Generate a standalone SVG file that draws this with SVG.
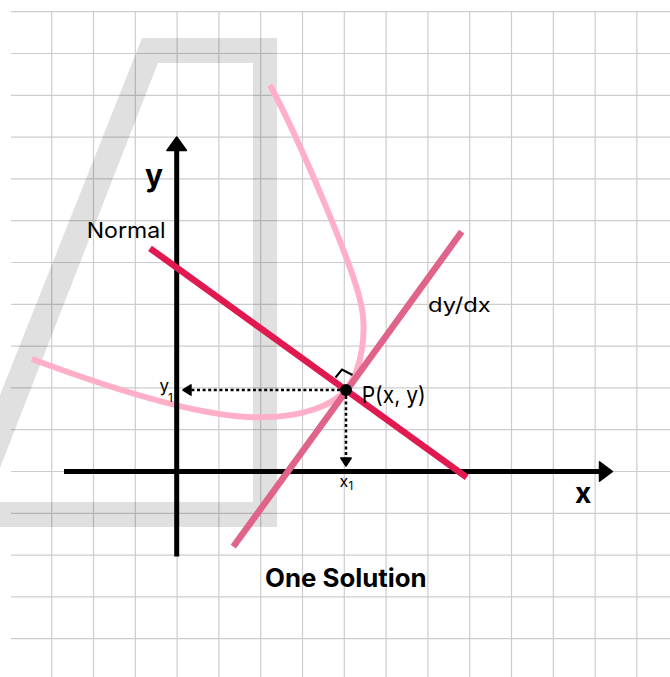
<svg xmlns="http://www.w3.org/2000/svg" width="670" height="677" viewBox="0 0 670 677">
<style>
.grid{stroke:#cdcdcd;stroke-width:1.2;fill:none}
.wm{fill:#000;fill-opacity:0.12}
.axis{stroke:#000;stroke-width:5;fill:none}
.head{fill:#000;stroke:#000;stroke-width:1.5;stroke-linejoin:round}
.curve{stroke:#ffb0c8;stroke-width:6;fill:none;stroke-linecap:butt}
.normal{stroke:#e01a50;stroke-width:6.5}
.tangent{stroke:#e0648a;stroke-width:6.5}
.dots{stroke:#000;stroke-width:2.5;stroke-dasharray:3 2.6;fill:none}
.t{font-family:Inter,"Noto Sans","Liberation Sans",sans-serif;fill:#000}
.b{font-weight:700}
</style>
<rect width="670" height="677" fill="#fff"/>
<g id="grid">
<path class="grid" d="M51.7 11.7V677M93.5 11.7V677M135.3 11.7V677M177.1 11.7V677M218.9 11.7V677M260.7 11.7V677M302.5 11.7V677M344.3 11.7V677M386.1 11.7V677M427.9 11.7V677M469.7 11.7V677M511.5 11.7V677M553.3 11.7V677M595.1 11.7V677M636.9 11.7V677M11 11.7H670M11 53.5H670M11 95.3H670M11 137.1H670M11 178.9H670M11 220.7H670M11 262.5H670M11 304.3H670M11 346.1H670M11 387.9H670M11 429.7H670M11 471.5H670M11 513.3H670M11 555.1H670M11 596.9H670M11 638.7H670"/>
</g>
<g id="watermark">
<polygon class="wm" points="0,395 142,38 277,38 277,527 0,527 0,502 253,502 253,63 158,63 0,468"/>
</g>
<g id="curve">
<path class="curve" d="M32,359 C120,392 210,420 265,417 C300,417 333,406 346,390 C362,370 368,330 360,300 C352,265 302,145 270,85"/>
</g>
<g id="axes">
<line class="axis" x1="176.7" y1="148" x2="176.7" y2="556.5"/>
<polygon class="head" points="176.7,137 186.5,150.5 166.9,150.5"/>
<line class="axis" x1="64" y1="471.5" x2="601" y2="471.5"/>
<polygon class="head" points="612.5,471.5 599.5,461.8 599.5,481.2"/>
</g>
<g id="connectors">
<line class="tangent" x1="233.3" y1="546.7" x2="461.7" y2="231.7"/>
<line class="normal" x1="150" y1="248.3" x2="466.7" y2="477.3"/>
<line class="dots" x1="340" y1="390" x2="190" y2="390"/>
<polygon class="head" points="183,390 191,384.8 191,395.2"/>
<line class="dots" x1="346" y1="396" x2="346" y2="459"/>
<polygon class="head" points="346,466 340.8,458 351.2,458"/>
<polyline points="335.5,377.5 342,369.5 352.5,375" fill="none" stroke="#000" stroke-width="2"/>
</g>
<g id="point-P">
<circle cx="346" cy="390" r="6" fill="#000"/>
<text class="t" x="361.7" y="402.7" font-size="23" textLength="64" lengthAdjust="spacingAndGlyphs">P(x, y)</text>
</g>
<g id="labels">
<text class="t b" x="145" y="186" font-size="30">y</text>
<text class="t b" x="575" y="503.3" font-size="28">x</text>
<text class="t" x="86.7" y="237.7" font-size="22" textLength="79" lengthAdjust="spacingAndGlyphs">Normal</text>
<text class="t" x="428" y="311.7" font-size="20" textLength="62.7" lengthAdjust="spacingAndGlyphs">dy/dx</text>
<text class="t" x="159.5" y="392" font-size="17">y</text>
<text class="t" x="168" y="401.5" font-size="12">1</text>
<text class="t" x="339.5" y="486.7" font-size="16">x</text>
<text class="t" x="348.5" y="490" font-size="11.5">1</text>
<text class="t b" x="265" y="586.7" font-size="25" textLength="161.7" lengthAdjust="spacingAndGlyphs">One Solution</text>
</g>
</svg>
